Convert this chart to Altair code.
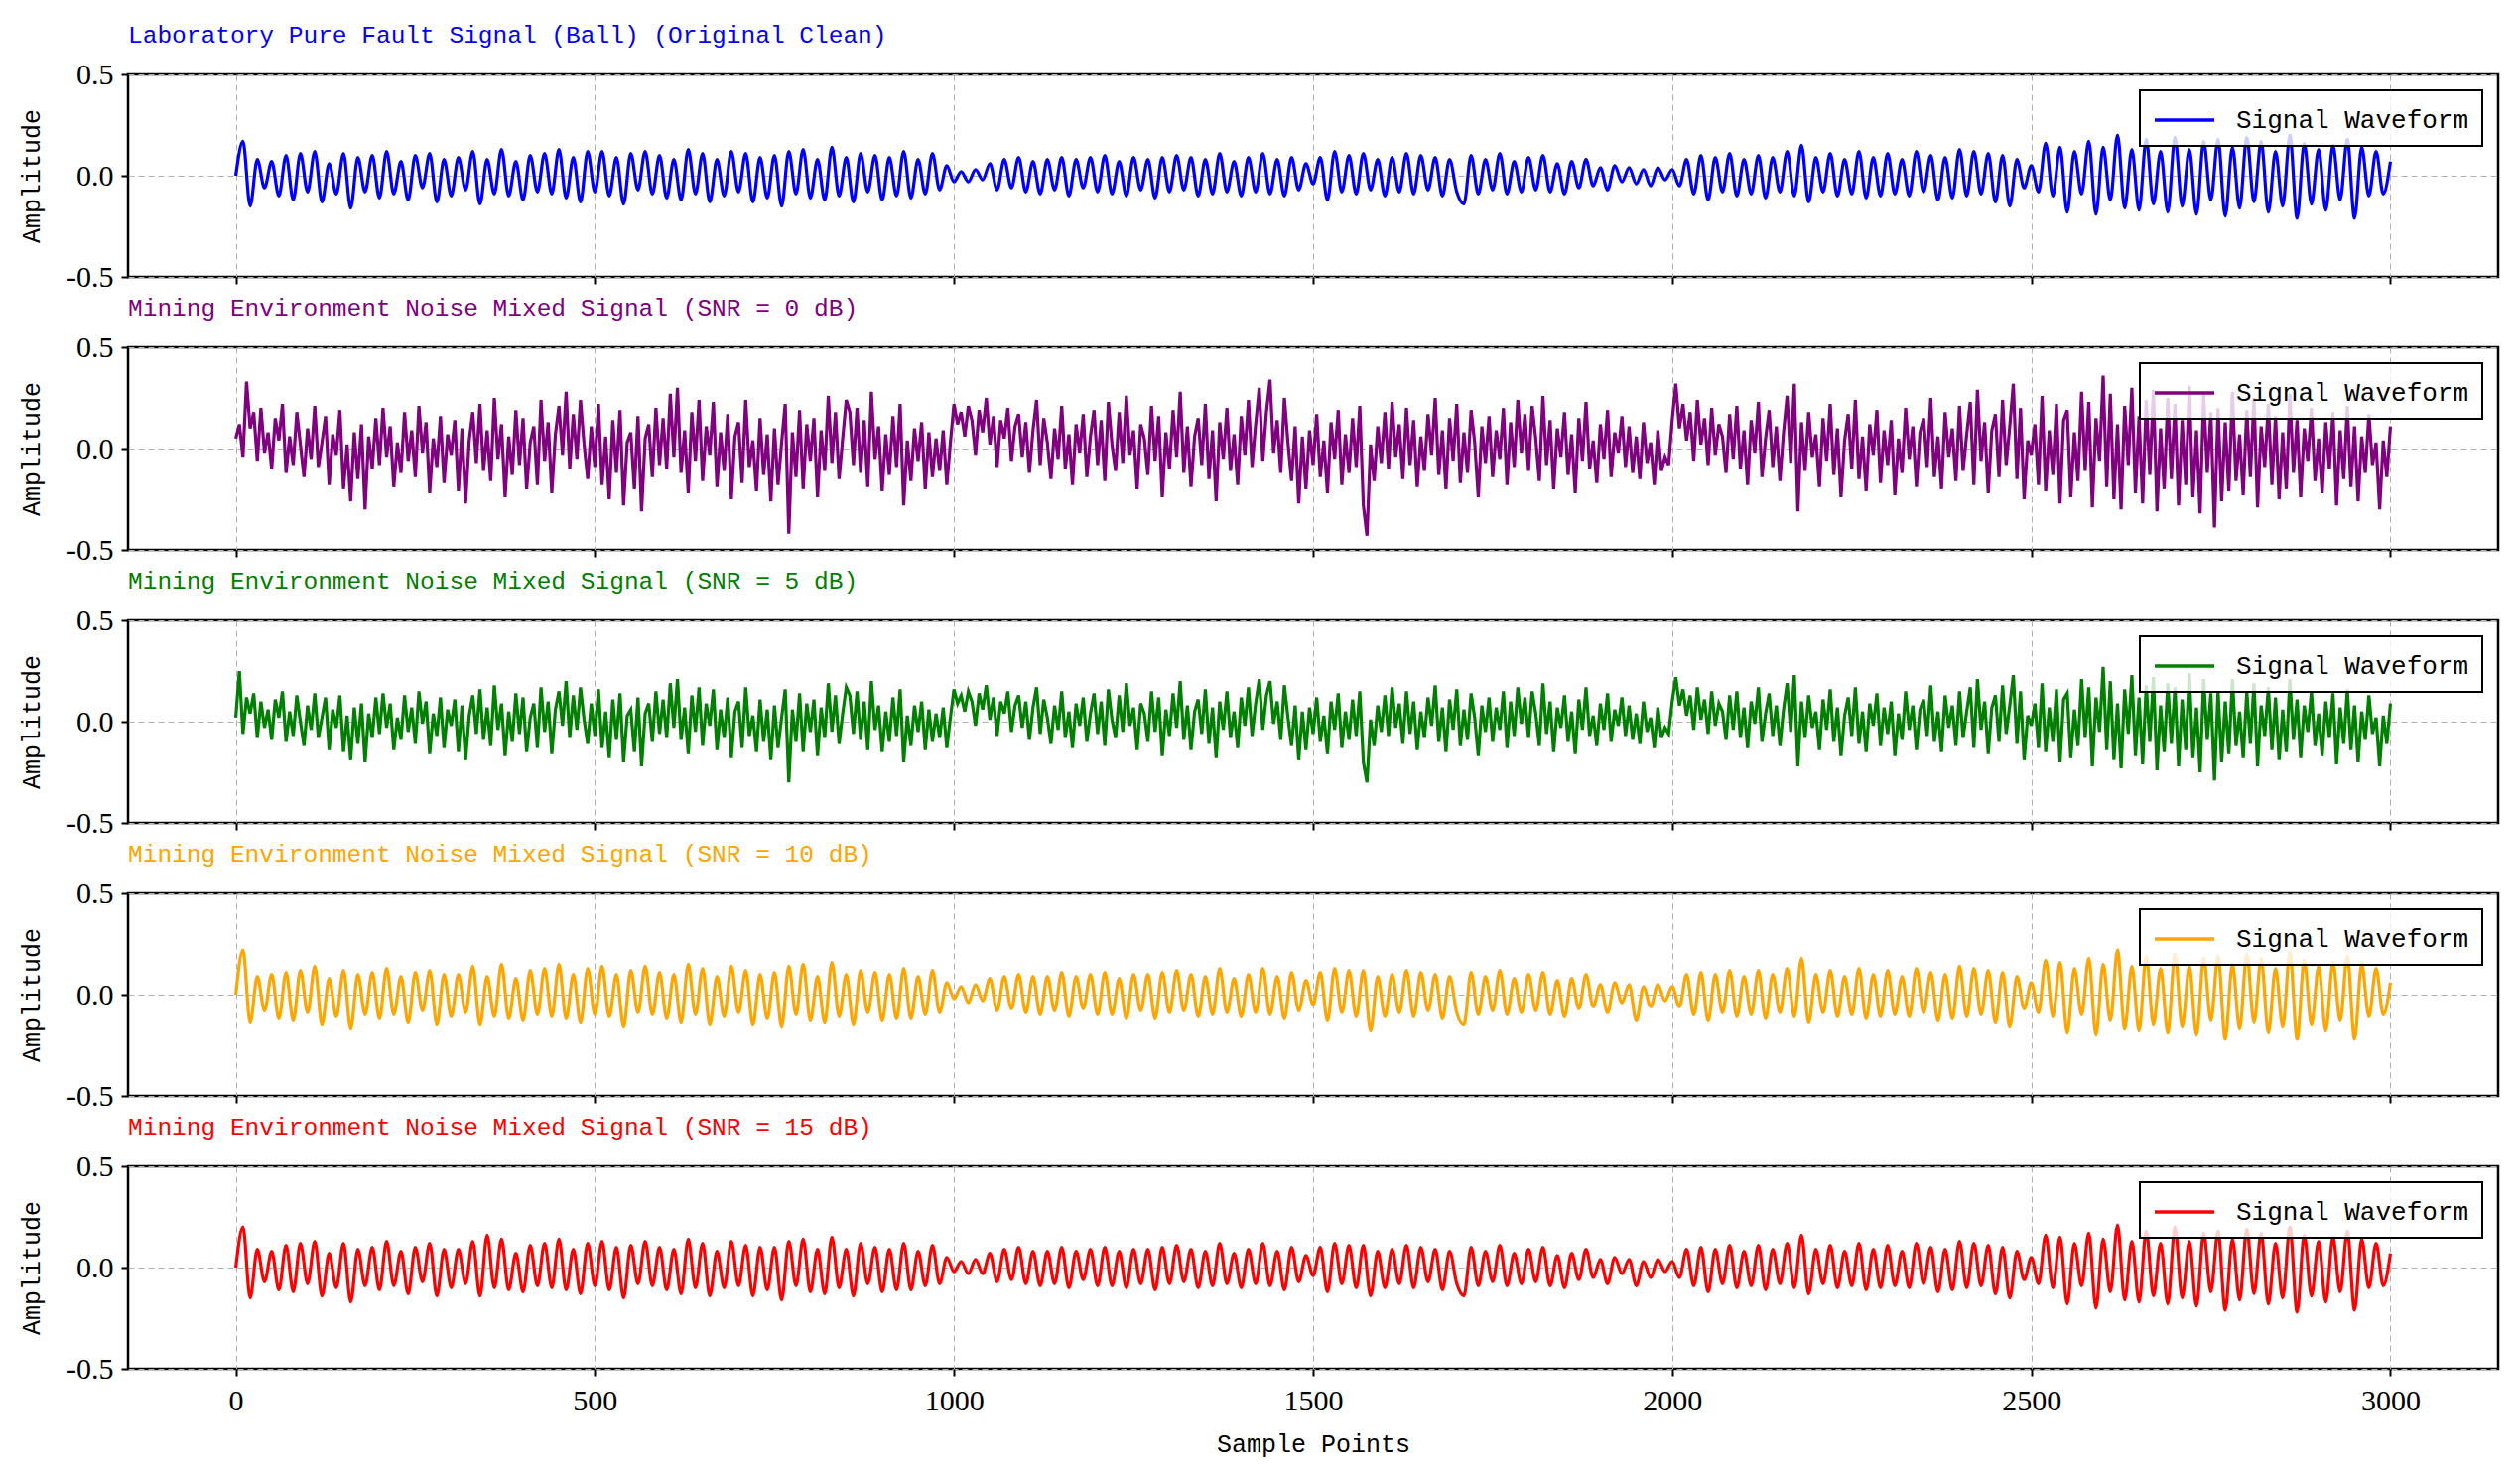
import altair as alt
import numpy as np
import pandas as pd

FONT = "Liberation Mono"
TICK_FONT = "Liberation Serif"

TITLES = [
    "Laboratory Pure Fault Signal (Ball) (Original Clean)",
    "Mining Environment Noise Mixed Signal (SNR = 0 dB)",
    "Mining Environment Noise Mixed Signal (SNR = 5 dB)",
    "Mining Environment Noise Mixed Signal (SNR = 10 dB)",
    "Mining Environment Noise Mixed Signal (SNR = 15 dB)",
]
COLORS = ["#0000ff", "#800080", "#008000", "#ffa500", "#ff0000"]
LEGEND_LABEL = "Signal Waveform"
X_TICKS = [0, 500, 1000, 1500, 2000, 2500, 3000]
Y_TICKS = [-0.5, 0.0, 0.5]

# amplitudes in hundredths (clean: every 10 samples)
CLEAN = [
    0, 17, -15, 8, -6, 7, -10, 10, -12, 11,
    -8, 12, -13, 6, -9, 11, -16, 9, -8, 10,
    -11, 12, -9, 7, -12, 10, -6, 11, -13, 8,
    -10, 9, -7, 12, -14, 8, -9, 13, -10, 7,
    -12, 10, -8, 11, -9, 13, -11, 9, -13, 12,
    -8, 12, -10, 9, -14, 11, -7, 12, -9, 10,
    -11, 8, -12, 13, -9, 11, -13, 8, -10, 12,
    -8, 11, -13, 9, -11, 10, -15, 12, -9, 13,
    -11, 8, -12, 14, -10, 9, -13, 11, -8, 10,
    -12, 9, -10, 12, -11, 8, -9, 11, -7, 5,
    -3, 2, -3, 3, -2, 6, -7, 8, -6, 9,
    -8, 7, -9, 8, -7, 9, -10, 8, -6, 9,
    -8, 10, -9, 7, -10, 9, -7, 8, -11, 9,
    -8, 10, -7, 9, -10, 8, -9, 11, -8, 7,
    -10, 9, -8, 11, -9, 8, -10, 9, -7, 6,
    -4, 9, -12, 12, -8, 10, -9, 11, -7, 8,
    -10, 9, -8, 11, -9, 10, -7, 9, -10, 8,
    -8, -14, 10, -9, 8, -7, 11, -9, 7, -8,
    9, -7, 10, -8, 6, -9, 7, -6, 8, -5,
    4, -7, 5, -3, 4, -4, 3, -5, 4, -2,
    3, -5, 8, -9, 10, -12, 9, -8, 11, -10,
    8, -9, 10, -11, 9, -8, 12, -10, 15, -13,
    9, -8, 11, -10, 8, -9, 12, -11, 9, -10,
    11, -9, 8, -10, 12, -8, 10, -12, 9, -11,
    13, -10, 12, -9, 11, -13, 10, -15, 8, -6,
    5, -8, 16, -10, 14, -18, 12, -9, 17, -19,
    14, -12, 20, -16, 13, -17, 18, -14, 12, -18,
    19, -15, 13, -19, 17, -12, 18, -20, 14, -16,
    19, -13, 17, -18, 12, -15, 20, -21, 16, -14,
    13, -17, 15, -12, 18, -21, 14, -10, 12, -9,
    7,
]

# SNR = 0 dB, every 5 samples
SNR0 = [
    5, 12, -4, 33, 10, 18, -6, 20, -2, 8,
    -10, 15, 4, 22, -12, 6, -8, 18, 2, -14,
    10, -5, 21, -9, 3, 16, -18, 7, -3, 19,
    -20, 2, -26, 8, -15, 12, -30, 6, -10, 15,
    -8, 20, -4, 11, -19, 3, -12, 18, -6, 9,
    -14, 21, -2, 13, -22, 5, -9, 16, -17, 7,
    -3, 14, -21, 10, -27, 4, 18, -7, 22, -11,
    9, -16, 25, -5, 12, -24, 6, -13, 19, -8,
    15, -20, 3, 11, -18, 24, -6, 13, -22, 7,
    21, -3, 28, -10, 17, -5, 24, 2, -15, 11,
    -9, 22, -18, 6, -25, 14, -12, 19, -28, 3,
    8, -20, 16, -31, 5, 12, -14, 20, -8, 15,
    -10, 27, -4, 30, -12, 9, -22, 18, -6, 24,
    -16, 11, -3, 23, -19, 8, -11, 17, -25, 6,
    13, -17, 24, -9, 4, -21, 15, -13, 7, -26,
    10, -18, 3, 22, -42, 8, -14, 19, -20, 12,
    -6, 15, -24, 9, -11, 26, -7, 18, -15, 5,
    24, 18, -8, 20, -12, 14, -19, 28, -5, 11,
    -21, 7, -13, 16, -9, 22, -28, 4, -16, 10,
    -6, 13, -20, 8, -14, 5, -11, 9, -18, 3,
    22, 12, 18, 6, 21, 14, -3, 19, 8, 25,
    2, 16, -9, 14, 5, 20, -6, 11, 17, -4,
    13, -12, 9, 24, -8, 15, 3, -15, 10, -5,
    21, -10, 7, -18, 12, -2, 17, -14, 6, 19,
    -8, 14, -16, 23, 2, -11, 18, -7, 26, -3,
    9, -20, 12, 5, -13, 21, -6, 16, -24, 8,
    -10, 19, -4, 28, -12, 11, -19, 6, 15, -8,
    22, -15, 9, -26, 13, -5, 20, -11, 7, -18,
    16, -3, 24, -9, 12, 30, -6, 18, 34, -2,
    14, -12, 25, 3, -16, 11, -27, 6, -20, 9,
    -8, 17, -14, 4, -22, 13, -5, 19, -18, 7,
    -12, 15, -9, 21, -28, -43, 2, -16, 11, -7,
    18, -10, 23, -4, 12, -15, 20, -8, 14, -19,
    6, -11, 17, -3, 25, -13, 9, -20, 15, -6,
    22, -17, 8, -12, 19, 3, -24, 11, -7, 16,
    -14, 9, -5, 20, -18, 13, -9, 24, -2, 17,
    -11, 21, 5, -16, 26, -8, 14, -20, 10, -4,
    18, -13, 7, -22, 15, -6, 23, -10, 4, -17,
    12, -5, 19, -14, 8, -2, 16, -9, 11, -12,
    6, -15, 13, -7, 3, -18, 9, -11, -4, -8,
    14, 32, 10, 22, 4, 18, -6, 24, 2, 15,
    -8, 20, -3, 12, 6, -12, 17, -5, 21, -10,
    9, -18, 14, -2, 23, -14, 5, 19, -9, 11,
    -16, 8, 26, -7, 32, -31, 13, -11, 18, -4,
    7, -19, 15, -6, 22, -13, 10, -24, 4, 17,
    -10, 24, -15, 6, -21, 12, -3, 19, -17, 9,
    -8, 14, -23, 5, -12, 20, -5, 11, -19, 8,
    15, -9, 25, -14, 6, -20, 18, -4, 10, -16,
    21, -11, 7, 23, -18, 29, -6, 13, -22, 9,
    17, -14, 24, -8, 11, 32, -15, 20, -25, 4,
    -3, 12, -18, 26, -21, 9, -13, 22, -27, 14,
    19, -24, 8, -16, 28, -11, 23, -29, 15, -6,
    36, -19, 27, -25, 12, -30, 21, -8, 30, -22,
    16, -27, 24, -13, 29, -31, 10, -20, 25, -15,
    22, -28, 14, -18, 31, -24, 9, -32, 27, -12,
    18, -39, 20, -26, 13, -21, 28, -16, 7, -23,
    19, -14, 25, -29, 11, -9, 22, -18, 16, -25,
    8, -20, 27, -12, 14, -24, 10, -6, 20, -16,
    5, -22, 13, -10, 18, -28, 9, -15, 21, -19,
    11, -26, 6, -12, 17, -8, 3, -30, 4, -14,
    11,
]

# SNR = 5 dB, every 5 samples
SNR5 = [
    2, 25, -6, 12, 4, 14, -8, 10, -3, 6,
    -9, 11, 2, 15, -10, 5, -7, 13, 0, -12,
    8, -4, 14, -8, 2, 12, -14, 6, -3, 13,
    -15, 3, -19, 7, -11, 9, -20, 4, -8, 12,
    -6, 14, -3, 9, -14, 2, -9, 13, -5, 7,
    -11, 15, -1, 10, -16, 4, -7, 12, -13, 6,
    -2, 11, -15, 8, -19, 3, 13, -6, 16, -9,
    7, -12, 18, -4, 9, -17, 5, -10, 14, -6,
    12, -15, 2, 9, -13, 17, -5, 10, -16, 6,
    15, -2, 20, -8, 13, -4, 17, 1, -11, 9,
    -7, 16, -13, 5, -18, 11, -9, 14, -20, 3,
    6, -15, 12, -22, 4, 9, -10, 15, -6, 11,
    -8, 19, -3, 21, -9, 7, -16, 13, -5, 17,
    -12, 9, -2, 16, -14, 6, -8, 12, -18, 5,
    10, -13, 17, -7, 3, -15, 11, -10, 6, -19,
    8, -13, 2, 16, -30, 6, -10, 14, -15, 9,
    -5, 11, -17, 7, -8, 19, -5, 13, -11, 4,
    17, 13, -6, 15, -9, 10, -14, 20, -4, 8,
    -15, 5, -10, 12, -7, 16, -20, 3, -12, 8,
    -5, 10, -14, 6, -10, 4, -8, 7, -13, 2,
    16, 9, 13, 5, 15, 10, -2, 14, 6, 18,
    1, 12, -7, 10, 4, 15, -5, 8, 13, -3,
    10, -9, 7, 17, -6, 11, 2, -11, 8, -4,
    15, -8, 5, -13, 9, -2, 12, -10, 4, 14,
    -6, 10, -12, 16, 1, -8, 13, -5, 19, -2,
    7, -14, 9, 4, -10, 15, -5, 12, -17, 6,
    -7, 14, -3, 20, -9, 8, -14, 5, 11, -6,
    16, -11, 7, -18, 10, -4, 15, -8, 5, -13,
    12, -2, 17, -7, 9, 21, -4, 13, 20, -1,
    10, -9, 18, 2, -12, 8, -19, 5, -14, 7,
    -6, 12, -10, 3, -16, 10, -4, 14, -13, 5,
    -9, 11, -7, 15, -20, -30, 1, -12, 8, -5,
    13, -7, 17, -3, 9, -11, 15, -6, 10, -14,
    5, -8, 12, -2, 18, -10, 7, -15, 11, -4,
    16, -12, 6, -9, 14, 2, -17, 8, -5, 12,
    -10, 7, -4, 15, -13, 10, -7, 17, -1, 12,
    -8, 15, 4, -12, 19, -6, 10, -15, 7, -3,
    13, -10, 5, -16, 11, -4, 17, -7, 3, -12,
    9, -4, 14, -10, 6, -2, 12, -7, 8, -9,
    4, -11, 10, -5, 2, -13, 7, -8, -3, -6,
    10, 22, 8, 16, 3, 13, -4, 17, 1, 11,
    -6, 15, -2, 9, 5, -9, 13, -4, 15, -8,
    7, -13, 10, -1, 17, -10, 4, 14, -7, 8,
    -12, 6, 19, -5, 23, -22, 10, -8, 13, -3,
    5, -14, 11, -4, 16, -10, 7, -17, 3, 12,
    -7, 17, -11, 5, -15, 9, -2, 14, -12, 7,
    -6, 10, -17, 4, -9, 15, -4, 8, -14, 6,
    11, -7, 18, -10, 5, -15, 13, -3, 8, -12,
    15, -8, 5, 17, -13, 21, -4, 10, -16, 7,
    13, -10, 18, -6, 8, 23, -11, 15, -19, 3,
    -2, 9, -13, 19, -15, 7, -10, 16, -20, 11,
    14, -18, 6, -12, 21, -8, 17, -22, 12, -5,
    27, -14, 20, -19, 9, -23, 16, -6, 23, -17,
    12, -21, 18, -10, 22, -24, 8, -15, 19, -11,
    17, -22, 11, -14, 24, -18, 7, -25, 21, -9,
    14, -29, 15, -20, 10, -16, 21, -12, 5, -18,
    15, -11, 19, -22, 8, -7, 17, -14, 12, -19,
    6, -15, 21, -9, 11, -18, 8, -5, 15, -12,
    4, -17, 10, -8, 14, -21, 7, -11, 16, -14,
    8, -20, 5, -9, 13, -6, 2, -22, 3, -11,
    9,
]

# SNR = 10 dB, every 10 samples
SNR10 = [
    0, 22, -14, 9, -8, 10, -12, 11, -13, 12,
    -9, 14, -15, 8, -11, 12, -17, 10, -10, 11,
    -12, 13, -10, 9, -14, 11, -8, 12, -15, 10,
    -11, 10, -9, 14, -15, 9, -11, 15, -12, 8,
    -13, 12, -10, 13, -11, 15, -12, 10, -14, 13,
    -10, 14, -11, 10, -16, 12, -9, 14, -10, 11,
    -12, 10, -14, 15, -10, 13, -15, 9, -11, 14,
    -9, 12, -15, 10, -12, 11, -16, 14, -10, 15,
    -13, 9, -14, 16, -11, 10, -15, 12, -9, 11,
    -13, 10, -12, 13, -12, 9, -10, 12, -9, 6,
    -2, 4, -4, 5, -3, 8, -8, 9, -7, 10,
    -9, 9, -10, 9, -8, 11, -11, 9, -7, 10,
    -10, 11, -10, 8, -12, 10, -8, 10, -12, 11,
    -9, 12, -8, 10, -11, 9, -10, 13, -9, 8,
    -11, 10, -9, 13, -10, 9, -12, 11, -8, 7,
    -5, 11, -13, 13, -9, 12, -11, 12, -18, 9,
    -11, 10, -9, 12, -11, 11, -8, 10, -12, 9,
    -9, -15, 11, -10, 9, -8, 12, -10, 8, -9,
    10, -8, 11, -10, 7, -11, 8, -7, 10, -6,
    5, -9, 6, -4, 5, -13, 4, -6, 5, -3,
    4, -6, 10, -10, 11, -13, 10, -9, 12, -11,
    9, -10, 12, -12, 10, -9, 13, -11, 18, -14,
    10, -9, 12, -11, 9, -10, 13, -12, 10, -11,
    12, -10, 9, -11, 13, -9, 11, -13, 10, -12,
    14, -11, 13, -10, 12, -14, 11, -16, 9, -7,
    6, -9, 17, -11, 16, -19, 13, -10, 18, -20,
    15, -13, 22, -17, 14, -18, 19, -15, 13, -19,
    20, -16, 14, -20, 18, -13, 19, -22, 15, -17,
    20, -14, 18, -19, 13, -16, 21, -22, 17, -15,
    14, -18, 16, -13, 19, -22, 15, -11, 13, -10,
    6,
]

# SNR = 15 dB, every 10 samples
SNR15 = [
    0, 20, -15, 9, -7, 8, -11, 11, -12, 12,
    -8, 13, -14, 7, -10, 12, -17, 9, -9, 10,
    -11, 13, -9, 8, -13, 10, -7, 12, -14, 9,
    -10, 9, -8, 13, -14, 16, -10, 14, -11, 7,
    -12, 11, -9, 12, -10, 14, -11, 9, -13, 12,
    -9, 13, -11, 10, -15, 11, -8, 13, -9, 10,
    -11, 9, -13, 14, -10, 12, -14, 8, -10, 13,
    -9, 11, -14, 10, -11, 10, -16, 13, -9, 14,
    -12, 9, -13, 15, -10, 9, -14, 12, -8, 10,
    -12, 9, -11, 12, -11, 8, -9, 11, -8, 5,
    -2, 3, -3, 4, -3, 7, -7, 9, -6, 10,
    -8, 8, -9, 8, -8, 10, -10, 8, -6, 9,
    -9, 10, -9, 8, -10, 9, -8, 9, -11, 10,
    -8, 11, -7, 9, -10, 8, -9, 12, -8, 7,
    -10, 9, -8, 12, -9, 8, -11, 10, -7, 6,
    -4, 10, -12, 12, -8, 11, -10, 11, -14, 8,
    -10, 9, -8, 11, -10, 10, -7, 9, -11, 8,
    -8, -14, 10, -9, 8, -7, 11, -9, 7, -8,
    9, -7, 10, -9, 6, -10, 7, -6, 9, -5,
    4, -8, 5, -3, 4, -9, 3, -5, 4, -2,
    3, -5, 9, -9, 10, -12, 9, -8, 11, -10,
    8, -9, 11, -11, 9, -8, 12, -10, 16, -13,
    9, -8, 11, -10, 8, -9, 12, -11, 9, -10,
    11, -9, 8, -10, 12, -8, 10, -12, 9, -11,
    13, -10, 12, -9, 11, -13, 10, -15, 8, -6,
    5, -8, 16, -10, 15, -18, 12, -9, 17, -20,
    14, -12, 21, -16, 13, -17, 18, -14, 12, -18,
    20, -15, 13, -19, 17, -12, 18, -21, 14, -16,
    19, -13, 17, -18, 12, -15, 20, -22, 16, -14,
    13, -17, 15, -12, 18, -21, 14, -10, 12, -9,
    7,
]

SERIES = [CLEAN, SNR0, SNR5, SNR10, SNR15]
SMOOTH = [True, False, False, True, True]

PLOT_W = 2388
PLOT_H = 204


def panel(i):
    vals = SERIES[i]
    n = len(vals)
    df = pd.DataFrame({
        "sample": np.linspace(0, 3000, n),
        "amp": np.array(vals, dtype=float) / 100.0,
        "series": [LEGEND_LABEL] * n,
    })
    last = i == len(SERIES) - 1
    x_axis = alt.Axis(
        values=X_TICKS,
        labels=last,
        title="Sample Points" if last else None,
        grid=True,
        format="d",
    )
    return (
        alt.Chart(df)
        .mark_line(strokeWidth=3.2, interpolate="monotone" if SMOOTH[i] else "linear")
        .encode(
            x=alt.X("sample:Q", scale=alt.Scale(domain=[-150, 3150], nice=False, zero=False), axis=x_axis),
            y=alt.Y(
                "amp:Q",
                scale=alt.Scale(domain=[-0.5, 0.5], nice=False),
                axis=alt.Axis(
                    values=Y_TICKS,
                    title="Amplitude",
                    labelExpr="replace(format(datum.value, '.1f'), '\u2212', '-')",
                ),
            ),
            color=alt.Color(
                "series:N",
                scale=alt.Scale(domain=[LEGEND_LABEL], range=[COLORS[i]]),
                legend=alt.Legend(
                    orient="top-right",
                    offset=16,
                    title=None,
                    symbolType="M-1,0H3",
                    symbolSize=900,
                    symbolStrokeWidth=3.5,
                    labelFontSize=26,
                    labelFont=FONT,
                    labelColor="black",
                    labelOffset=50,
                    labelLimit=600,
                    strokeColor="black",
                    fillColor="rgba(255,255,255,0.8)",
                    padding=13,
                ),
            ),
        )
        .properties(
            width=PLOT_W,
            height=PLOT_H,
            title=alt.TitleParams(
                TITLES[i],
                anchor="start",
                color=COLORS[i],
                font=FONT,
                fontSize=24.5,
                fontWeight="normal",
                offset=12,
                frame="group",
            ),
        )
    )


chart = (
    alt.vconcat(*[panel(i) for i in range(len(SERIES))], spacing=0)
    .resolve_scale(color="independent")
    .resolve_legend(color="independent")
    .properties(padding={"left": 10, "top": 13, "right": 5, "bottom": 5})
    .configure_view(stroke="black", strokeWidth=2.5)
    .configure_axis(
        labelFont=TICK_FONT,
        titleFont=FONT,
        labelFontSize=30,
        titleFontSize=25,
        titleFontWeight="normal",
        labelColor="black",
        titleColor="black",
        domain=False,
        tickColor="black",
        tickWidth=2,
        tickSize=7,
        gridColor="#b0b0b0",
        gridDash=[6, 4],
        gridWidth=1,
    )
    .configure_axisX(labelPadding=10, titlePadding=16)
    .configure_axisY(labelPadding=8, titlePadding=22)
    .configure_legend(strokeWidth=2)
)

chart.save("out.html", embed_options={"renderer": "svg", "actions": False})
